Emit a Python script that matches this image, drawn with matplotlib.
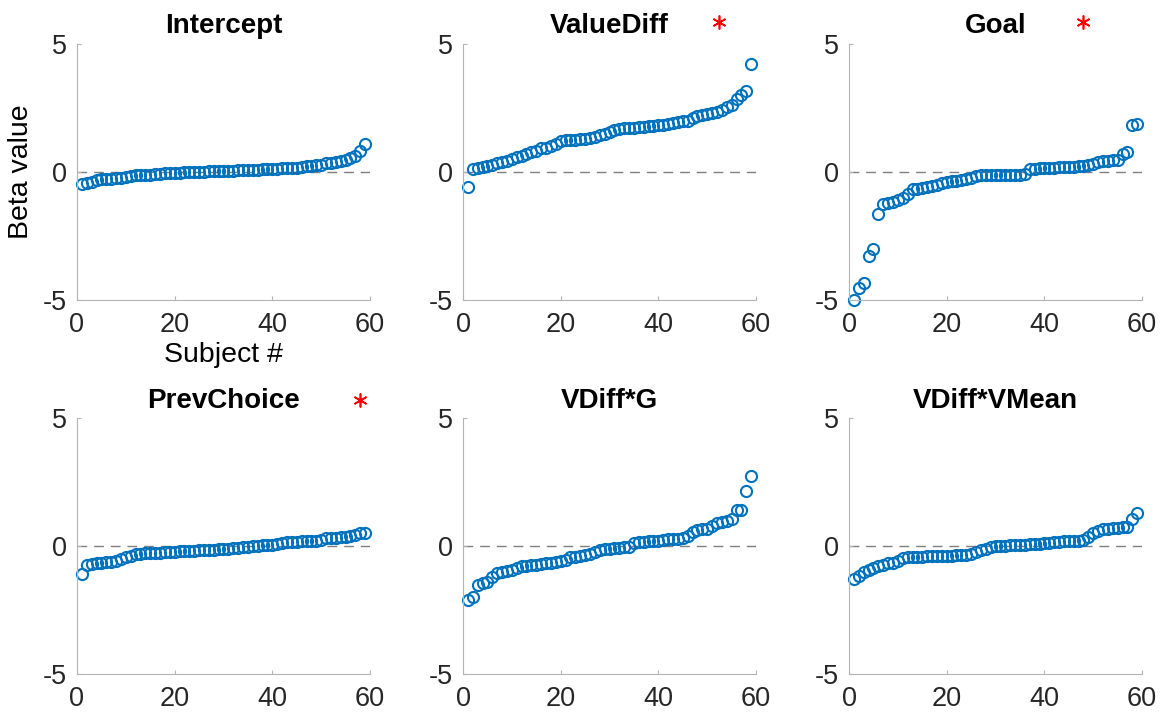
import numpy as np
import matplotlib
matplotlib.use("Agg")
import matplotlib.pyplot as plt

plt.rcParams.update({
    "font.family": ["Liberation Sans", "DejaVu Sans"],
    "font.size": 19.5,
    "axes.unicode_minus": False,
})

TITLES = ["Intercept", "ValueDiff", "Goal", "PrevChoice", "VDiff*G", "VDiff*VMean"]

# sorted betas per subject (59 subjects)
intercept = [-0.47, -0.42, -0.38, -0.33, -0.29, -0.27, -0.26, -0.25, -0.23, -0.20,
             -0.15, -0.13, -0.12, -0.11, -0.10, -0.08, -0.07, -0.06, -0.05, -0.04,
             -0.03, -0.02, -0.01, 0.00, 0.00, 0.01, 0.02, 0.03, 0.04, 0.04,
             0.05, 0.05, 0.06, 0.07, 0.08, 0.08, 0.09, 0.10, 0.11, 0.12,
             0.13, 0.14, 0.15, 0.16, 0.17, 0.19, 0.22, 0.25, 0.27, 0.29,
             0.33, 0.36, 0.38, 0.42, 0.46, 0.55, 0.62, 0.80, 1.10]
value_diff = [-0.59, 0.10, 0.15, 0.20, 0.22, 0.27, 0.33, 0.37, 0.42, 0.50,
              0.58, 0.63, 0.70, 0.77, 0.83, 0.92, 0.95, 1.00, 1.10, 1.20,
              1.23, 1.24, 1.25, 1.28, 1.30, 1.33, 1.38, 1.43, 1.48, 1.55,
              1.65, 1.68, 1.70, 1.72, 1.73, 1.74, 1.75, 1.78, 1.80, 1.82,
              1.84, 1.87, 1.92, 1.95, 1.98, 2.00, 2.12, 2.20, 2.24, 2.27,
              2.30, 2.35, 2.42, 2.55, 2.60, 2.85, 3.00, 3.15, 4.20]
goal = [-4.99, -4.52, -4.34, -3.28, -3.02, -1.63, -1.24, -1.21, -1.17, -1.10,
        -1.00, -0.85, -0.68, -0.66, -0.64, -0.60, -0.55, -0.50, -0.44, -0.40,
        -0.37, -0.34, -0.30, -0.27, -0.25, -0.15, -0.12, -0.12, -0.12, -0.11,
        -0.11, -0.11, -0.10, -0.10, -0.10, -0.08, 0.12, 0.13, 0.14, 0.15,
        0.16, 0.17, 0.18, 0.20, 0.20, 0.21, 0.22, 0.25, 0.28, 0.32,
        0.37, 0.42, 0.44, 0.46, 0.48, 0.70, 0.76, 1.82, 1.89]
prev_choice = [-1.09, -0.74, -0.70, -0.68, -0.66, -0.64, -0.62, -0.60, -0.52, -0.45,
               -0.38, -0.32, -0.30, -0.29, -0.28, -0.27, -0.26, -0.25, -0.23, -0.22,
               -0.21, -0.20, -0.19, -0.18, -0.17, -0.16, -0.15, -0.14, -0.13, -0.11,
               -0.10, -0.08, -0.07, -0.05, -0.04, -0.02, 0.00, 0.02, 0.03, 0.04,
               0.06, 0.12, 0.14, 0.15, 0.16, 0.18, 0.19, 0.20, 0.21, 0.22,
               0.30, 0.32, 0.33, 0.34, 0.35, 0.37, 0.42, 0.50, 0.52]
vdiff_g = [-2.11, -2.00, -1.52, -1.46, -1.42, -1.20, -1.07, -1.02, -0.99, -0.95,
           -0.85, -0.79, -0.77, -0.75, -0.73, -0.70, -0.68, -0.66, -0.63, -0.60,
           -0.55, -0.45, -0.43, -0.40, -0.36, -0.30, -0.22, -0.15, -0.12, -0.10,
           -0.09, -0.07, -0.05, -0.04, 0.10, 0.14, 0.17, 0.18, 0.19, 0.20,
           0.25, 0.26, 0.27, 0.28, 0.30, 0.40, 0.55, 0.62, 0.65, 0.68,
           0.78, 0.88, 0.95, 0.98, 1.05, 1.40, 1.42, 2.15, 2.73]
vdiff_vmean = [-1.29, -1.17, -1.02, -0.94, -0.87, -0.80, -0.74, -0.68, -0.65, -0.60,
               -0.48, -0.45, -0.44, -0.43, -0.42, -0.41, -0.40, -0.40, -0.39, -0.38,
               -0.38, -0.37, -0.37, -0.36, -0.30, -0.22, -0.15, -0.10, -0.05, -0.02,
               0.00, 0.01, 0.02, 0.03, 0.04, 0.05, 0.07, 0.08, 0.09, 0.10,
               0.12, 0.14, 0.16, 0.18, 0.19, 0.20, 0.21, 0.23, 0.35, 0.50,
               0.60, 0.66, 0.68, 0.70, 0.72, 0.74, 0.76, 1.05, 1.28]

BETAS = [intercept, value_diff, goal, prev_choice, vdiff_g, vdiff_vmean]

# significance asterisk (x, y in data units), None = not significant
SIG_STARS = [None, (52.4, 5.86), (47.9, 5.86), (58.0, 5.7), None, None]

BLUE = "#0072BD"
GREY = "#b4b4b4"

fig = plt.figure(figsize=(11.61, 7.12), dpi=100)

lefts = [0.0663, 0.3988, 0.7313]
bottoms = [0.5787, 0.0534]
w, h = 0.2524, 0.3596

for i, (title, betas) in enumerate(zip(TITLES, BETAS)):
    row, col = divmod(i, 3)
    ax = fig.add_axes([lefts[col], bottoms[row], w, h])
    subj = np.arange(1, len(betas) + 1)

    ax.axhline(0, color="#7f7f7f", linewidth=1, dashes=(7, 5), zorder=1)
    ax.plot(subj, betas, linestyle="none", marker="o", markersize=8,
            markerfacecolor="none", markeredgecolor=BLUE, markeredgewidth=1.5,
            zorder=2, clip_on=False)

    ax.set_xlim(0, 60)
    ax.set_ylim(-5, 5)
    ax.set_xticks([0, 20, 40, 60])
    ax.set_yticks([-5, 0, 5])
    ax.tick_params(direction="in", length=3, width=0.8, color=GREY,
                   labelcolor="#262626")
    ax.tick_params(axis="x", pad=9)
    ax.tick_params(axis="y", pad=7)
    for side in ["top", "right"]:
        ax.spines[side].set_visible(False)
    for side in ["left", "bottom"]:
        ax.spines[side].set_color(GREY)
        ax.spines[side].set_linewidth(0.8)

    ax.set_title(title, fontsize=20, fontweight="bold", pad=8 if row == 0 else 7)

    if SIG_STARS[i] is not None:
        sx, sy = SIG_STARS[i]
        ax.plot(sx, sy, linestyle="none", marker=(6, 2, 0), markersize=10,
                markeredgewidth=1.2, color="red", clip_on=False)

    if i == 0:
        ax.set_ylabel("Beta value", fontsize=20.5)
        ax.yaxis.set_label_coords(-0.147, 0.5)
        ax.set_xlabel("Subject #", fontsize=20.5)
        ax.xaxis.set_label_coords(0.5, -0.165)

plt.savefig("out.png")
